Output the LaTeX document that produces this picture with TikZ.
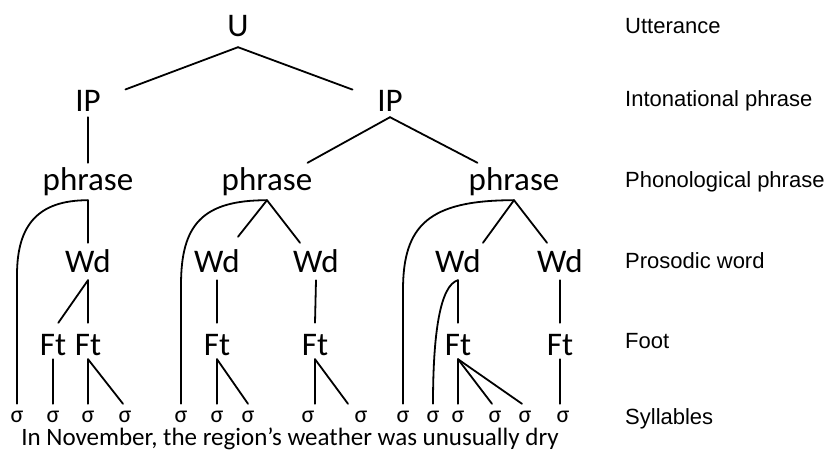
\documentclass[tikz,border=0pt]{standalone}
\usepackage{fontspec}
\setmainfont{Carlito}
\newfontfamily\arialfont{Liberation Sans}
\begin{document}
\begin{tikzpicture}[x=1pt,y=-1pt,
  tn/.style={anchor=base,inner sep=0pt,font=\fontsize{33}{40}\selectfont},
  lvU/.style={tn,text height=21pt,text depth=10pt},
  lvIP/.style={tn,text height=21pt,text depth=6pt},
  lvPh/.style={tn,text height=27pt,text depth=10pt},
  lvWd/.style={tn,text height=29pt,text depth=8pt},
  lvFt/.style={tn,text height=32pt,text depth=4pt},
  syl/.style={anchor=base,inner sep=0pt,text height=18pt,text depth=0pt,font=\fontsize{24}{28}\selectfont},
  lab/.style={anchor=base west,inner sep=0pt,font=\arialfont\fontsize{22}{26}\selectfont},
  edge/.style={line width=1.8pt,line cap=round}]
\useasboundingbox (0,0) rectangle (827,452);
% tree nodes
\node[lvU] (U) at (238,37) {U};
\node[lvIP] (ipL) at (88,111) {IP};
\node[lvIP] (ipR) at (390,111) {IP};
\node[lvPh] (phL) at (88,190) {phrase};
\node[lvPh] (phM) at (267,190) {phrase};
\node[lvPh] (phR) at (514,190) {phrase};
\node[lvWd] (wdA) at (88,272) {Wd};
\node[lvWd] (wdB) at (217,272) {Wd};
\node[lvWd] (wdC) at (316,272) {Wd};
\node[lvWd] (wdD) at (458,272) {Wd};
\node[lvWd] (wdE) at (560,272) {Wd};
\node[lvFt] (ftA) at (53,355) {Ft};
\node[lvFt] (ftB) at (88,355) {Ft};
\node[lvFt] (ftC) at (217,355) {Ft};
\node[lvFt] (ftD) at (315,355) {Ft};
\node[lvFt] (ftE) at (458,355) {Ft};
\node[lvFt] (ftF) at (560,355) {Ft};
% syllables
\foreach \n/\x in {1/17,2/53,3/88,4/125,5/181,6/217,7/248,8/308,9/361,10/403,11/433,12/458,13/495,14/525,15/563}
  \node[syl] (s\n) at (\x,422) {σ};
\node[anchor=base,inner sep=0pt,text height=17pt,font=\fontsize{25}{30}\selectfont] (sent) at (290,445) {In November, the region’s weather was unusually dry};
% right labels
\node[lab] (lU) at (625,34) {Utterance};
\node[lab] (lIP) at (625,106) {Intonational phrase};
\node[lab] (lPh) at (625,187) {Phonological phrase};
\node[lab] (lWd) at (625,268) {Prosodic word};
\node[lab] (lFt) at (625,348) {Foot};
\node[lab] (lS) at (625,424) {Syllables};
% connectors
\draw[edge,shorten >=40pt] (U.south) -- (ipL.center);
\draw[edge,shorten >=40pt] (U.south) -- (ipR.center);
\draw[edge] (ipL.south) -- (phL.north);
\draw[edge] (ipR.south) -- ([xshift=-5pt]phM.north east);
\draw[edge] (ipR.south) -- ([xshift=9pt]phR.north west);
\draw[edge] (phL.south) -- (wdA.north);
\draw[edge] (phM.south) -- ([xshift=-2pt,yshift=6pt]wdB.north east);
\draw[edge] (phM.south) -- ([xshift=7pt]wdC.north west);
\draw[edge] (phR.south) -- ([xshift=2pt]wdD.north east);
\draw[edge] (phR.south) -- ([xshift=10pt]wdE.north west);
\draw[edge] (wdA.south) -- (ftB.north);
\draw[edge] (wdA.south) -- ([xshift=-8pt]ftA.north east);
\draw[edge] (wdB.south) -- (ftC.north);
\draw[edge] (wdC.south) -- (ftD.north);
\draw[edge] (wdD.south) -- (ftE.north);
\draw[edge] (wdE.south) -- (ftF.north);
\draw[edge] (ftA.south) -- (s2.north);
\draw[edge] (ftB.south) -- (s3.north);
\draw[edge] (ftB.south) -- ([xshift=-2pt]s4.north);
\draw[edge] (ftC.south) -- (s6.north);
\draw[edge] (ftC.south) -- (s7.north);
\draw[edge] (ftD.south) -- ([xshift=7pt]s8.north);
\draw[edge] (ftD.south) -- ([xshift=-13pt]s9.north);
\draw[edge] (ftE.south) -- (s12.north);
\draw[edge] (ftE.south) -- ([xshift=-3pt]s13.north);
\draw[edge] (ftE.south) -- ([xshift=-3pt]s14.north);
\draw[edge] (ftF.south) -- ([xshift=-3pt]s15.north);
% curved links
\coordinate (bL) at (17,275);
\coordinate (bM) at (181,285);
\coordinate (bR) at (403,290);
\draw[edge] (phL.south) .. controls +(-50,0) and +(0,-50) .. (bL) -- (s1.north);
\draw[edge] (phM.south) .. controls +(-65,0) and +(0,-60) .. (bM) -- (s5.north);
\draw[edge] (phR.south) .. controls +(-85,0) and +(0,-65) .. (bR) -- (s10.north);
\draw[edge] (wdD.south) .. controls +(-18,5) and +(0,-70) .. (s11.north);
\end{tikzpicture}
\end{document}
